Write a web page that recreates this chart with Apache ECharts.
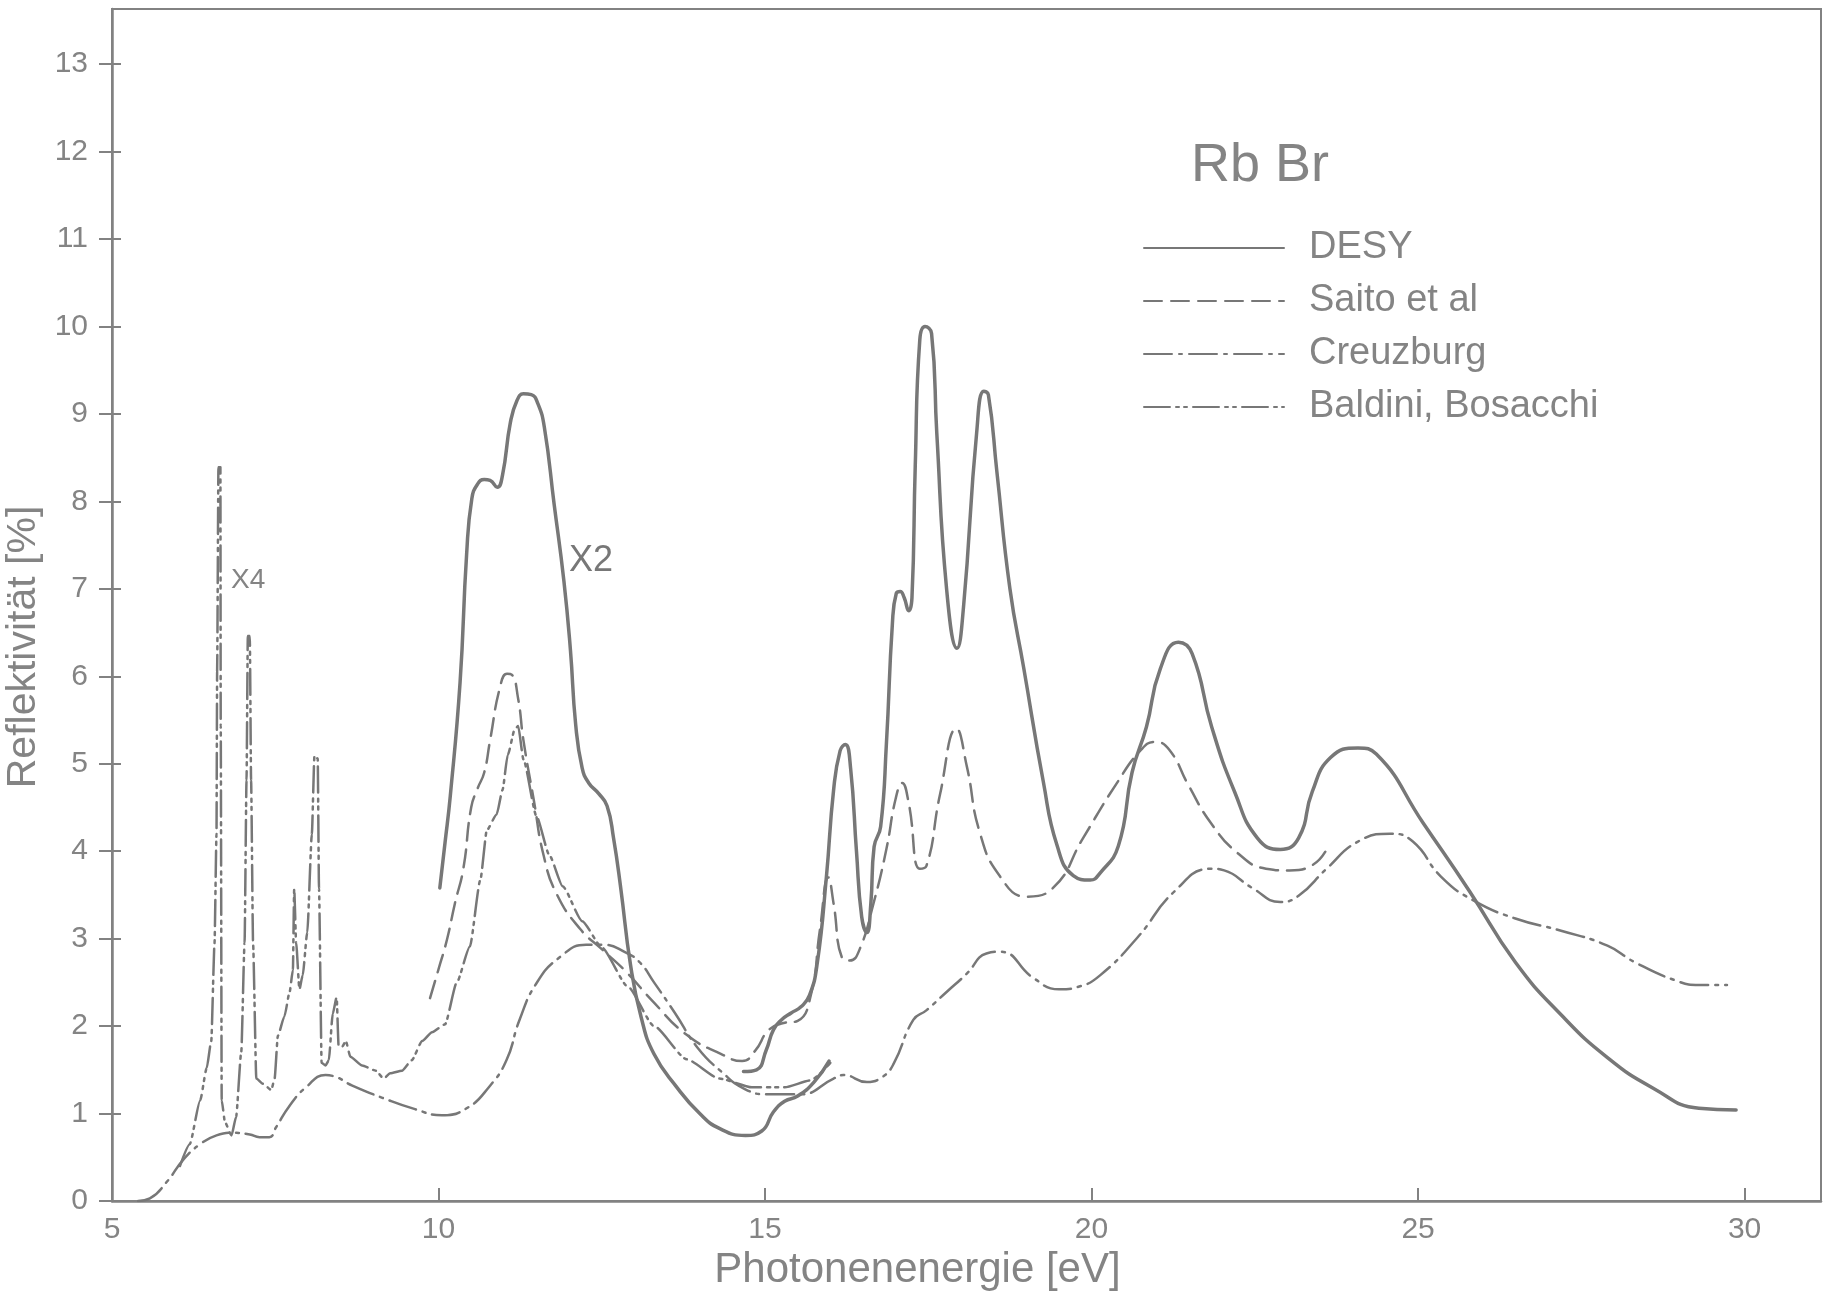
<!DOCTYPE html>
<html>
<head>
<meta charset="utf-8">
<script src="https://cdn.jsdelivr.net/npm/echarts@6/dist/echarts.min.js"></script>
<style>
html,body{margin:0;padding:0;background:#fff;}
#c{width:1825px;height:1295px;}
</style>
</head>
<body>
<div id="c"></div>
<script>
// ---- data (photon energy [eV], reflectivity [%]) ----
const xTicks = [5, 10, 15, 20, 25, 30];
const yTicks = [0, 1, 2, 3, 4, 5, 6, 7, 8, 9, 10, 11, 12, 13];
const seriesNames = ['DESY', 'Saito et al', 'Creuzburg', 'Baldini, Bosacchi'];

// DESY, part drawn magnified x2 (10 - 16 eV)
const desyX2 = [[10.02,3.58],[10.1,4.1],[10.18,4.63],[10.33,5.93],[10.43,7.39],[10.51,8.03],[10.6,8.2],[10.7,8.25],[10.79,8.24],[10.9,8.16],[10.98,8.3],[11.1,8.9],[11.2,9.15],[11.3,9.23],[11.42,9.22],[11.52,9.12],[11.62,8.85],[11.77,7.97],[11.92,7.09],[12.02,6.3],[12.1,5.45],[12.2,4.95],[12.3,4.78],[12.45,4.66],[12.58,4.52],[12.68,4.15],[12.79,3.58],[12.94,2.7],[13.1,2.11],[13.3,1.68],[13.65,1.3],[14.0,1.0],[14.3,0.83],[14.7,0.75],[14.95,0.8],[15.13,1.02],[15.3,1.14],[15.5,1.2],[15.75,1.36],[15.98,1.6]];

// DESY, unscaled
const desy = [[14.67,1.48],[14.87,1.5],[15.02,1.73],[15.13,1.96],[15.25,2.07],[15.4,2.15],[15.55,2.22],[15.68,2.35],[15.8,2.72],[15.94,3.71],[16.05,4.7],[16.15,5.15],[16.23,5.22],[16.31,4.95],[16.4,4.0],[16.48,3.25],[16.56,3.07],[16.62,3.4],[16.67,4.05],[16.77,4.28],[16.86,5.25],[16.95,6.6],[17.01,6.95],[17.07,6.97],[17.13,6.9],[17.2,6.75],[17.25,6.9],[17.3,8.4],[17.37,9.85],[17.45,10.0],[17.55,9.92],[17.63,8.78],[17.78,7.0],[17.94,6.32],[18.04,6.8],[18.24,8.78],[18.35,9.26],[18.42,9.22],[18.55,8.34],[18.75,7.0],[18.96,6.1],[19.26,4.8],[19.47,4.07],[19.72,3.72],[19.98,3.67],[20.13,3.75],[20.41,4.06],[20.62,4.9],[20.84,5.42],[21.05,6.08],[21.33,6.39],[21.54,6.26],[21.84,5.42],[22.19,4.68],[22.54,4.15],[22.89,4.02],[23.17,4.15],[23.38,4.68],[23.66,5.07],[24.08,5.18],[24.36,5.11],[25.08,4.32],[25.79,3.54],[26.49,2.73],[27.19,2.13],[27.9,1.64],[28.6,1.29],[29.3,1.06],[29.87,1.04]];

const saito = [[9.87,2.32],[10.0,2.65],[10.13,2.99],[10.25,3.4],[10.38,3.8],[10.5,4.5],[10.6,4.72],[10.7,4.9],[10.79,5.27],[10.94,5.87],[11.05,6.03],[11.12,6.02],[11.22,5.74],[11.3,5.27],[11.46,4.58],[11.61,3.95],[11.81,3.51],[12.17,3.11],[12.5,2.88],[12.9,2.6],[13.26,2.3],[13.8,1.9],[14.33,1.68],[14.65,1.6],[14.85,1.72],[15.05,1.95],[15.25,2.03],[15.5,2.06],[15.7,2.35],[15.84,3.1],[15.97,3.7],[16.05,3.4],[16.18,2.78],[16.3,2.75],[16.45,2.88],[16.66,3.4],[16.86,4.03],[17.0,4.6],[17.1,4.78],[17.2,4.55],[17.37,3.8],[17.47,3.83],[17.68,4.65],[17.93,5.4],[18.09,4.97],[18.29,4.21],[18.6,3.71],[19.0,3.48],[19.41,3.58],[19.87,4.15],[20.38,4.77],[20.76,5.16],[20.97,5.25],[21.19,5.16],[21.48,4.76],[21.83,4.32],[22.25,3.97],[22.67,3.80],[23.03,3.78],[23.38,3.84],[23.6,4.02]];

const creuzburg = [[5.4,0],[5.58,0.03],[5.84,0.22],[6.09,0.47],[6.35,0.65],[6.6,0.75],[6.85,0.78],[7.11,0.76],[7.26,0.73],[7.41,0.73],[7.51,0.84],[7.72,1.09],[7.97,1.30],[8.27,1.44],[8.38,1.43],[8.68,1.32],[9.14,1.18],[9.64,1.05],[10.05,0.98],[10.43,1.06],[10.78,1.31],[11.04,1.61],[11.24,2.07],[11.5,2.49],[11.86,2.79],[12.26,2.93],[12.52,2.93],[12.87,2.84],[13.08,2.73],[13.3,2.5],[13.62,2.15],[13.97,1.75],[14.33,1.48],[14.69,1.28],[15.05,1.22],[15.54,1.22],[16.05,1.4],[16.2,1.44],[16.56,1.36],[16.8,1.42],[16.97,1.57],[17.27,2.07],[17.47,2.18],[17.78,2.39],[18.09,2.6],[18.39,2.83],[18.6,2.85],[19.11,2.55],[19.5,2.42],[19.8,2.45],[20.13,2.58],[20.7,3.01],[21.27,3.54],[21.83,3.8],[22.03,3.78],[22.46,3.58],[22.89,3.42],[23.17,3.49],[23.6,3.8],[24.08,4.11],[24.57,4.2],[24.92,4.11],[25.35,3.71],[25.84,3.44],[26.49,3.23],[27.19,3.09],[27.9,2.92],[28.32,2.73],[28.95,2.52],[29.3,2.47],[29.73,2.47]];

// Baldini, Bosacchi (low-energy peaks drawn magnified x4)
const baldini = [[6.04,0.40],[6.19,0.65],[6.35,1.15],[6.45,1.52],[6.52,1.83],[6.57,2.95],[6.60,4.19],[6.61,6.06],[6.63,8.39],[6.66,8.39],[6.665,5.43],[6.68,1.15],[6.73,0.9],[6.83,0.75],[6.90,0.96],[6.98,1.71],[7.03,2.95],[7.06,4.81],[7.08,6.46],[7.11,6.46],[7.13,4.81],[7.16,2.95],[7.21,1.40],[7.31,1.34],[7.44,1.27],[7.49,1.40],[7.54,1.89],[7.64,2.11],[7.72,2.39],[7.77,2.64],[7.79,3.57],[7.82,2.95],[7.87,2.42],[7.92,2.58],[7.99,3.07],[8.06,4.19],[8.10,5.09],[8.15,5.06],[8.17,3.57],[8.21,1.58],[8.27,1.55],[8.32,1.61],[8.38,2.14],[8.44,2.33],[8.47,1.77],[8.53,1.77],[8.58,1.83],[8.65,1.65],[8.83,1.55],[9.04,1.49],[9.16,1.40],[9.26,1.46],[9.44,1.49],[9.59,1.61],[9.75,1.83],[9.90,1.93],[10.10,2.02],[10.28,2.5],[10.48,2.91],[10.64,3.67],[10.74,4.24],[10.89,4.42],[10.98,4.7],[11.06,5.1],[11.17,5.4],[11.22,5.43],[11.3,5.05],[11.5,4.4],[11.7,3.95],[11.9,3.6],[12.2,3.2],[12.5,2.9],[12.9,2.45],[13.3,2.0],[13.8,1.62],[14.3,1.4],[14.8,1.3],[15.3,1.3],[15.7,1.38],[16.0,1.58]];

// ---- styling ----
const FONT = '"Liberation Sans", Arial, sans-serif';
const LINE = '#777777';
const TEXT = '#848484';
const AXIS = '#828282';

const chart = echarts.init(document.getElementById('c'), null, {renderer: 'canvas'});

function lineSeries(name, data, width, type, smooth, mono) {
  const s = {
    name: name, type: 'line', data: data,
    symbol: 'none', showSymbol: false,
    smooth: smooth,
    lineStyle: {color: LINE, width: width, type: type, cap: 'round', join: 'round'},
    itemStyle: {color: LINE},
    emphasis: {disabled: true},
    silent: true, z: 3
  };
  if (mono) s.smoothMonotone = 'x';
  return s;
}

const option = {
  animation: false,
  backgroundColor: '#ffffff',
  title: {
    text: 'Rb Br', left: 1186, top: 134,
    textStyle: {fontFamily: FONT, fontSize: 54, fontWeight: 'normal', color: TEXT}
  },
  legend: {
    orient: 'vertical', left: 1138, top: 224,
    itemWidth: 140, itemHeight: 2, itemGap: 15,
    selectedMode: false,
    data: seriesNames,
    itemStyle: {opacity: 0},
    textStyle: {fontFamily: FONT, fontSize: 38, color: TEXT, lineHeight: 38, padding: [0, 0, 0, 20]}
  },
  grid: {
    left: 112, right: 4, top: 9, bottom: 94,
    containLabel: false, outerBoundsMode: 'none',
    show: true, borderColor: AXIS, borderWidth: 2, backgroundColor: 'transparent'
  },
  xAxis: {
    type: 'value', min: 5, max: 31.17,
    name: 'Photonenenergie [eV]', nameLocation: 'middle', nameGap: 41,
    nameTextStyle: {fontFamily: FONT, fontSize: 42, color: TEXT, padding: [0, 98, 0, 0]},
    axisLine: {show: true, lineStyle: {color: AXIS, width: 2.5}},
    axisTick: {show: true, inside: true, length: 13, lineStyle: {color: AXIS, width: 2}, customValues: xTicks},
    axisLabel: {fontFamily: FONT, fontSize: 30, color: TEXT, margin: 14, customValues: xTicks},
    splitLine: {show: false}
  },
  yAxis: [{
    type: 'value', min: 0, max: 13.63,
    name: 'Reflektivität [%]', nameLocation: 'middle', nameGap: 61,
    nameTextStyle: {fontFamily: FONT, fontSize: 41, color: TEXT, padding: [0, 84, 0, 0]},
    axisLine: {show: true, lineStyle: {color: AXIS, width: 2.5}},
    axisTick: {show: true, inside: false, length: 13, lineStyle: {color: AXIS, width: 2}, customValues: yTicks},
    axisLabel: {fontFamily: FONT, fontSize: 30, color: TEXT, margin: 24, customValues: yTicks},
    splitLine: {show: false}
  }, {
    type: 'value', min: 0, max: 13.63, position: 'left',
    axisLine: {show: false},
    axisTick: {show: true, inside: true, length: 9, lineStyle: {color: AXIS, width: 2}, customValues: yTicks},
    axisLabel: {show: false},
    splitLine: {show: false}
  }],
  graphic: [
    {type: 'text', left: 231, top: 566, silent: true,
     style: {text: 'X4', fontFamily: FONT, fontSize: 28, fill: TEXT}},
    {type: 'text', left: 569, top: 543, silent: true,
     style: {text: 'X2', fontFamily: FONT, fontSize: 36, fill: '#777'}}
  ],
  series: [
    lineSeries('DESY', desyX2, 3.5, 'solid', 0.5, false),
    lineSeries('DESY', desy, 3.5, 'solid', 0.5, false),
    lineSeries('Saito et al', saito, 2.5, [18, 9], 0.5, false),
    lineSeries('Creuzburg', creuzburg, 2.5, [28, 7, 3, 7], 0.5, false),
    lineSeries('Baldini, Bosacchi', baldini, 2.5, [26, 6, 3, 5, 3, 6], 0.2, true)
  ]
};
chart.setOption(option);
</script>
</body>
</html>
